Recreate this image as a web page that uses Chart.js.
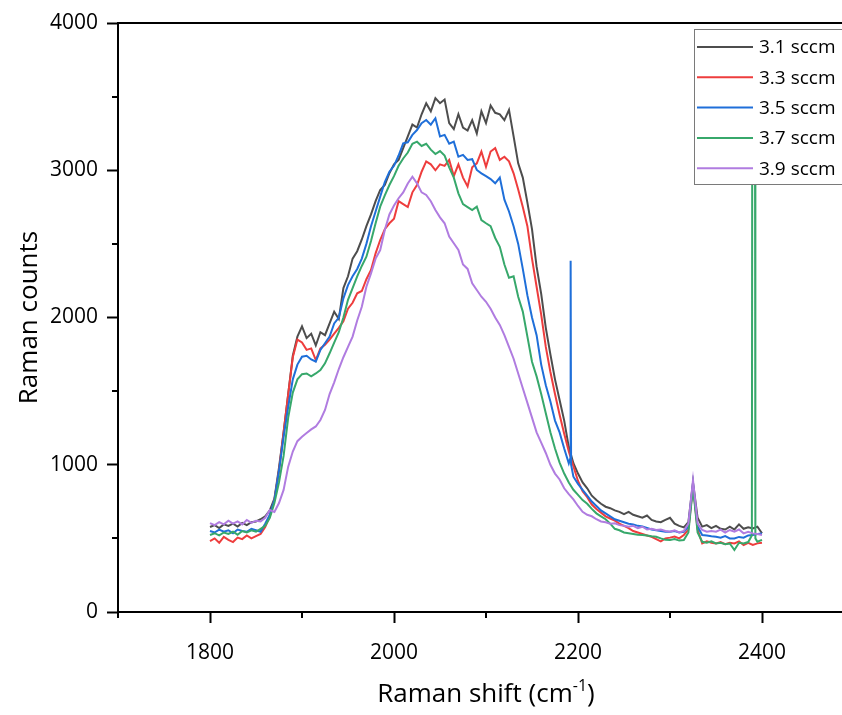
<!DOCTYPE html>
<html>
<head>
<meta charset="utf-8">
<title>Raman spectra</title>
<script src="https://cdn.jsdelivr.net/npm/chart.js@4.4.1/dist/chart.umd.min.js"></script>
<style>
  html, body { margin: 0; padding: 0; background: #fff; overflow: hidden; }
  canvas { display: block; }
</style>
</head>
<body>
<canvas id="c" width="860" height="715"></canvas>
<script>
// Raman shift grid (cm-1)
const shift = [
  1800,1805,1810,1815,1820,1825,1830,1835,1840,1845,
  1850,1855,1860,1865,1870,1875,1880,1885,1890,1895,
  1900,1905,1910,1915,1920,1925,1930,1935,1940,1945,
  1950,1955,1960,1965,1970,1975,1980,1985,1990,1995,
  2000,2005,2010,2015,2020,2025,2030,2035,2040,2045,
  2050,2055,2060,2065,2070,2075,2080,2085,2090,2095,
  2100,2105,2110,2115,2120,2125,2130,2135,2140,2145,
  2150,2155,2160,2165,2170,2175,2180,2185,2190,2195,
  2200,2205,2210,2215,2220,2225,2230,2235,2240,2245,
  2250,2255,2260,2265,2270,2275,2280,2285,2290,2295,
  2300,2305,2310,2315,2320,2325,2330,2335,2340,2345,
  2350,2355,2360,2365,2370,2375,2380,2385,2390,2395,
  2400
];

// Raman counts for each flow rate
const sccm31 = [
  577,590,570,595,585,600,580,605,590,610,
  615,630,650,690,770,980,1220,1480,1740,1870,
  1940,1860,1890,1810,1900,1880,1960,2040,1990,2200,
  2280,2400,2450,2530,2620,2700,2790,2866,2900,2980,
  3040,3070,3150,3230,3310,3290,3380,3455,3400,3490,
  3455,3480,3320,3280,3380,3290,3270,3340,3250,3400,
  3320,3440,3390,3380,3340,3410,3230,3047,2950,2780,
  2600,2345,2160,1930,1750,1580,1440,1300,1120,1010,
  940,880,840,790,760,735,715,705,690,680,
  665,680,660,650,640,655,625,615,610,625,
  640,600,585,575,610,880,640,580,590,570,
  585,565,560,580,560,595,565,575,568,580,
  535
];
const sccm33 = [
  482,500,470,510,490,475,505,495,520,500,
  515,530,577,650,760,960,1220,1480,1730,1850,
  1830,1780,1790,1711,1790,1815,1850,1890,1930,1975,
  2060,2100,2164,2180,2260,2323,2436,2526,2600,2640,
  2670,2790,2770,2750,2850,2900,2990,3060,3040,3000,
  3040,3030,3070,2960,3040,2950,2890,3020,3047,3127,
  3024,3127,3150,3070,3092,3060,2979,2870,2750,2620,
  2400,2209,2020,1800,1630,1480,1340,1210,1090,990,
  890,820,780,730,700,675,650,635,620,600,
  585,570,550,540,530,520,510,495,480,500,
  505,512,500,523,560,860,560,466,480,470,
  466,475,460,470,466,480,455,470,455,466,
  470
];
const sccm35 = [
  550,540,560,545,555,535,560,550,545,565,
  555,545,600,660,760,960,1190,1394,1580,1680,
  1734,1740,1715,1700,1780,1825,1870,1960,2000,2130,
  2220,2280,2330,2400,2500,2620,2720,2821,2920,2990,
  3030,3100,3183,3190,3240,3273,3320,3341,3310,3353,
  3230,3240,3180,3194,3092,3104,3070,3075,3002,2979,
  2960,2940,2911,2950,2800,2720,2620,2500,2330,2150,
  2000,1880,1680,1540,1430,1300,1220,1110,1010,919,
  870,830,790,750,720,690,670,650,630,620,
  610,600,595,585,580,570,560,555,550,545,
  545,550,540,545,580,870,580,523,520,515,
  511,505,515,500,500,510,505,520,523,530,
  534
];
const sccm37 = [
  523,535,520,540,530,545,525,550,540,555,
  545,565,585,640,740,880,1060,1320,1490,1580,
  1615,1620,1600,1620,1643,1689,1757,1830,1900,2000,
  2120,2200,2280,2350,2413,2520,2640,2753,2830,2900,
  2960,3030,3080,3120,3180,3194,3165,3180,3140,3110,
  3130,3100,3020,2950,2843,2770,2750,2730,2753,2662,
  2640,2620,2540,2480,2360,2270,2280,2141,2040,1870,
  1700,1600,1480,1350,1220,1110,1015,940,880,830,
  795,760,735,700,670,650,630,600,565,555,
  540,535,530,525,523,520,515,511,500,490,
  489,495,485,489,540,850,540,477,470,480,
  466,470,460,465,421,470,466,475,3400,477,
  490
];
const sccm39 = [
  604,590,610,595,620,600,615,595,625,605,
  620,615,640,693,680,740,829,987,1090,1160,
  1190,1215,1240,1260,1304,1372,1480,1560,1650,1730,
  1800,1870,1980,2073,2209,2300,2400,2458,2594,2700,
  2760,2810,2850,2910,2956,2911,2850,2832,2790,2730,
  2680,2640,2550,2504,2458,2360,2330,2232,2187,2141,
  2107,2060,2000,1950,1880,1800,1720,1620,1520,1420,
  1320,1220,1150,1080,1000,940,900,840,800,765,
  720,680,660,650,630,615,610,600,602,590,
  585,579,585,570,579,560,565,557,560,550,
  545,555,540,550,600,896,600,557,545,550,
  545,560,540,557,545,560,534,545,534,530,
  523
];

// narrow cosmic-ray spikes recorded between grid points: [shift, counts]
const spike35 = [[2191.5, 1040], [2192, 2385], [2192.5, 1000]];
const spike37 = [[2389, 520], [2389.4, 3400], [2392.4, 3400], [2392.8, 500]];

const labels = ['3.1 sccm', '3.3 sccm', '3.5 sccm', '3.7 sccm', '3.9 sccm'];
const colors = ['#4d4d4d', '#ee3d3d', '#1f6fd9', '#37a86b', '#b07ce0'];

const xTicks = [1800, 2000, 2200, 2400];
const xMinorTicks = [1700, 1900, 2100, 2300, 2500];
const yTicks = [0, 1000, 2000, 3000, 4000];
const yMinorTicks = [500, 1500, 2500, 3500];

function toPoints(values, extra) {
  const pts = shift.map((x, i) => ({ x: x, y: values[i] }));
  (extra || []).forEach(p => pts.push({ x: p[0], y: p[1] }));
  pts.sort((a, b) => a.x - b.x);
  return pts;
}

const seriesValues = [sccm31, sccm33, sccm35, sccm37, sccm39];
const seriesExtra = [null, null, spike35, spike37, null];

const FONT = "'Open Sans', 'DejaVu Sans', sans-serif";

// frame, minor ticks, axis titles and the boxed legend
const decorations = {
  id: 'decorations',
  afterDraw(chart) {
    const { ctx, chartArea: a, scales } = chart;
    const xs = scales.x, ys = scales.y;
    ctx.save();
    ctx.strokeStyle = '#000';
    ctx.lineWidth = 2;
    ctx.beginPath();
    ctx.moveTo(a.left - 1, a.top);
    ctx.lineTo(a.right, a.top);
    ctx.lineTo(a.right, a.bottom);
    ctx.stroke();

    ctx.beginPath();
    yMinorTicks.forEach(v => {
      const py = Math.round(ys.getPixelForValue(v));
      ctx.moveTo(a.left - 6, py);
      ctx.lineTo(a.left, py);
    });
    xMinorTicks.forEach(v => {
      const px = Math.round(xs.getPixelForValue(v));
      ctx.moveTo(px, a.bottom);
      ctx.lineTo(px, a.bottom + 6);
    });
    ctx.stroke();

    // y title
    ctx.fillStyle = '#000';
    ctx.font = '26px ' + FONT;
    ctx.textAlign = 'center';
    ctx.textBaseline = 'middle';
    ctx.save();
    ctx.translate(30, (a.top + a.bottom) / 2);
    ctx.rotate(-Math.PI / 2);
    ctx.fillText('Raman counts', 0, 0);
    ctx.restore();

    // x title with superscript
    const main = 'Raman shift (cm';
    const sup = '-1';
    const tail = ')';
    ctx.textAlign = 'left';
    ctx.textBaseline = 'alphabetic';
    ctx.font = '26px ' + FONT;
    const wMain = ctx.measureText(main).width;
    const wTail = ctx.measureText(tail).width;
    ctx.font = '16px ' + FONT;
    const wSup = ctx.measureText(sup).width;
    const total = wMain + wSup + wTail;
    let tx = (a.left + a.right) / 2 - total / 2;
    const base = 702;
    ctx.font = '26px ' + FONT;
    ctx.fillText(main, tx, base);
    tx += wMain;
    ctx.font = '16px ' + FONT;
    ctx.fillText(sup, tx, base - 11);
    tx += wSup;
    ctx.font = '26px ' + FONT;
    ctx.fillText(tail, tx, base);

    // legend
    const lx = 694.5, ly = 29.5, lw = 160, lh = 155;
    ctx.fillStyle = '#fff';
    ctx.fillRect(lx, ly, lw, lh);
    ctx.strokeStyle = '#7a7a7a';
    ctx.lineWidth = 1;
    ctx.strokeRect(lx, ly, lw, lh);
    ctx.font = '19px ' + FONT;
    ctx.textBaseline = 'middle';
    ctx.textAlign = 'left';
    labels.forEach((lab, i) => {
      const ry = 47 + i * 30.3;
      ctx.strokeStyle = colors[i];
      ctx.lineWidth = 2;
      ctx.beginPath();
      ctx.moveTo(697, ry);
      ctx.lineTo(753, ry);
      ctx.stroke();
      ctx.fillStyle = '#000';
      ctx.fillText(lab, 759, ry + 1);
    });
    ctx.restore();
  }
};

const tickFont = { family: FONT, size: 21 };
const plainLabel = v => String(v);

new Chart(document.getElementById('c'), {
  type: 'line',
  data: {
    datasets: labels.map((lab, i) => ({
      label: lab,
      data: toPoints(seriesValues[i], seriesExtra[i]),
      borderColor: colors[i],
      backgroundColor: colors[i],
      borderWidth: 2,
      pointRadius: 0,
      tension: 0,
      fill: false,
      order: labels.length - 1 - i
    }))
  },
  options: {
    responsive: false,
    animation: false,
    events: [],
    layout: { padding: { top: 23, right: 6, left: 0, bottom: 0 } },
    plugins: { legend: { display: false }, tooltip: { enabled: false } },
    scales: {
      x: {
        type: 'linear',
        min: 1700,
        max: 2500,
        afterBuildTicks: s => { s.ticks = xTicks.map(v => ({ value: v })); },
        afterFit: s => { s.height = 103; },
        grid: { display: true, drawOnChartArea: false, drawTicks: true, tickLength: 11, tickWidth: 2, tickColor: '#000' },
        border: { display: true, color: '#000', width: 2 },
        ticks: { color: '#000', font: tickFont, padding: 17, maxRotation: 0, autoSkip: false, callback: plainLabel }
      },
      y: {
        type: 'linear',
        min: 0,
        max: 4000,
        afterBuildTicks: s => { s.ticks = yTicks.map(v => ({ value: v })); },
        afterFit: s => { s.width = 118; },
        grid: { display: true, drawOnChartArea: false, drawTicks: true, tickLength: 11, tickWidth: 2, tickColor: '#000' },
        border: { display: true, color: '#000', width: 2 },
        ticks: { color: '#000', font: tickFont, padding: 9, autoSkip: false, callback: plainLabel }
      }
    }
  },
  plugins: [decorations]
});
</script>
</body>
</html>
